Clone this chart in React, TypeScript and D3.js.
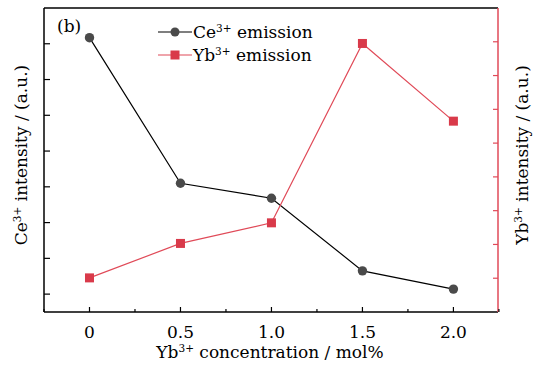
import React from "react";
import * as d3 from "d3";

const concentrations = [0, 0.5, 1.0, 1.5, 2.0];
const ceEmission = [8.17, 4.1, 3.68, 1.65, 1.14];
const ybEmission = [1.01, 2.03, 2.64, 7.95, 5.65];
const xTickValues = [0, 0.5, 1.0, 1.5, 2.0];
const xMinorTicks = [-0.25, 0.25, 0.75, 1.25, 1.75, 2.25];
const leftTicks = [1, 2, 3, 4, 5, 6, 7, 8];
const rightTicks = [1, 2, 3, 4, 5, 6, 7, 8];

const W = 533, H = 365;
const L = 44, R = 498, T = 8, B = 312;
const RED = "#d93a4a";
const RED_LINE = "#e04a58";
const DARK = "#4a4a4a";
const FONT = "'DejaVu Serif', serif";
const FS = 17;
const SUP = 10.5;

export default function App() {
  const x = d3.scaleLinear().domain([-0.25, 2.245]).range([L, R]);
  const yL = d3.scaleLinear().domain([0.5, 9]).range([B, T]);
  const yR = d3.scaleLinear().domain([0, 9]).range([B, T]);

  const lineCe = d3.line<number>().x((_, i) => x(concentrations[i])).y((d) => yL(d));
  const lineYb = d3.line<number>().x((_, i) => x(concentrations[i])).y((d) => yR(d));

  return (
    <svg width={W} height={H} style={{ position: "absolute", left: 0, top: 0, fontFamily: FONT }}>
      <rect x={0} y={0} width={W} height={H} fill="#fff" />
      <line x1={L} y1={T} x2={R} y2={T} stroke="#000" strokeWidth={1.5} />
      <line x1={L} y1={T} x2={L} y2={B} stroke="#000" strokeWidth={1.5} />
      <line x1={L} y1={B} x2={R} y2={B} stroke="#000" strokeWidth={1.5} />
      <line x1={R} y1={T} x2={R} y2={B} stroke={RED_LINE} strokeWidth={1.5} />
      {leftTicks.map((t) => (
        <line key={"l" + t} x1={L} x2={L + 6} y1={yL(t)} y2={yL(t)} stroke="#000" strokeWidth={1.2} />
      ))}
      {rightTicks.map((t) => (
        <line key={"r" + t} x1={R} x2={R - 5} y1={yR(t)} y2={yR(t)} stroke={RED_LINE} strokeWidth={1.2} />
      ))}
      {xTickValues.map((t) => (
        <g key={"x" + t}>
          <line x1={x(t)} x2={x(t)} y1={B} y2={B - 5} stroke="#000" strokeWidth={1.2} />
          <text x={x(t)} y={338} textAnchor="middle" fontSize={FS}>
            {t === 0 ? "0" : d3.format(".1f")(t)}
          </text>
        </g>
      ))}
      {xMinorTicks.map((t) => (
        <line key={"m" + t} x1={x(t)} x2={x(t)} y1={B} y2={B - 3} stroke="#000" strokeWidth={1.2} />
      ))}
      <path d={lineCe(ceEmission) || ""} fill="none" stroke="#000" strokeWidth={1.2} />
      <path d={lineYb(ybEmission) || ""} fill="none" stroke={RED_LINE} strokeWidth={1.2} />
      {ceEmission.map((v, i) => (
        <circle key={"c" + i} cx={x(concentrations[i])} cy={yL(v)} r={4.7} fill={DARK} />
      ))}
      {ybEmission.map((v, i) => (
        <rect key={"s" + i} x={x(concentrations[i]) - 4.5} y={yR(v) - 4.5} width={9} height={9} fill={RED} />
      ))}
      <text x={57} y={32} fontSize={FS}>(b)</text>
      <line x1={158} x2={192} y1={32} y2={32} stroke="#000" strokeWidth={1.2} />
      <circle cx={175} cy={32} r={4.5} fill={DARK} />
      <text x={193} y={38} fontSize={FS}>
        Ce<tspan fontSize={SUP} dy={-6.5}>3+</tspan><tspan dy={6.5}> emission</tspan>
      </text>
      <line x1={158} x2={192} y1={55} y2={55} stroke={RED_LINE} strokeWidth={1.2} />
      <rect x={170.5} y={50.5} width={9} height={9} fill={RED} />
      <text x={193} y={61} fontSize={FS}>
        Yb<tspan fontSize={SUP} dy={-6.5}>3+</tspan><tspan dy={6.5}> emission</tspan>
      </text>
      <text x={270} y={358} textAnchor="middle" fontSize={FS}>
        Yb<tspan fontSize={SUP} dy={-6.5}>3+</tspan><tspan dy={6.5}> concentration / mol%</tspan>
      </text>
      <text transform="translate(27,155) rotate(-90)" textAnchor="middle" fontSize={FS}>
        Ce<tspan fontSize={SUP} dy={-6.5}>3+</tspan><tspan dy={6.5}> intensity / (a.u.)</tspan>
      </text>
      <text transform="translate(528,155) rotate(-90)" textAnchor="middle" fontSize={FS}>
        Yb<tspan fontSize={SUP} dy={-6.5}>3+</tspan><tspan dy={6.5}> intensity / (a.u.)</tspan>
      </text>
    </svg>
  );
}
